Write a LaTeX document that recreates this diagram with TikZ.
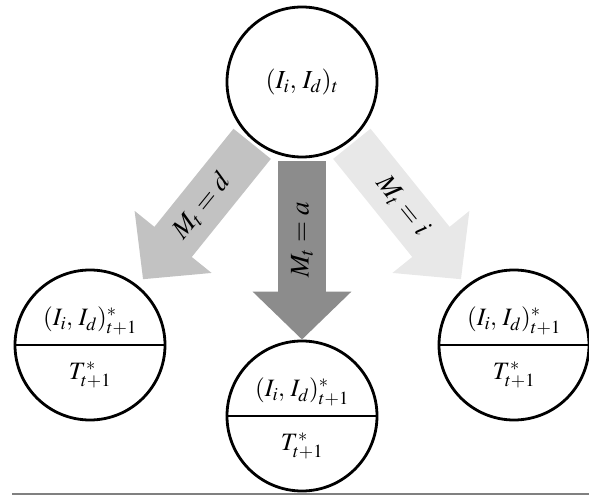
\documentclass[tikz,border=0pt]{standalone}
\usepackage{mathptmx}
\usetikzlibrary{arrows.meta}
\definecolor{moveD}{gray}{0.76}
\definecolor{moveA}{gray}{0.55}
\definecolor{moveI}{gray}{0.91}
\tikzset{
  state/.style={circle,draw,line width=2.8pt,fill=white,minimum size=150pt,
    inner sep=0pt,font=\fontsize{26}{30}\selectfont},
  statetext/.style={inner sep=0pt,font=\fontsize{25}{29}\selectfont},
  move/.style={line width=48pt,-{Triangle[length=48pt,width=96pt]},shorten <=3pt},
  movelabel/.style={font=\fontsize{27}{31}\selectfont,pos=0.45}
}
\begin{document}
\begin{tikzpicture}[x=1pt,y=1pt]
  \useasboundingbox (0,0) rectangle (589,495);
  \node[state] (now) at (302,413) {$(I_i,\, I_d)_t$};
  \foreach \n/\x/\y in {nextD/90/150, nextA/302/79, nextI/514/150} {
    \node[state] (\n) at (\x,\y) {};
    \draw[line width=2.8pt] (\n.west) -- (\n.east);
    \node[statetext] (\n-up) at ([yshift=24]\n.center) {$(I_i,\, I_d)^*_{t+1}$};
    \node[statetext] (\n-low) at ([yshift=-30]\n.center) {$T^*_{t+1}$};
  }
  \draw[move,draw=moveD,shorten >=8pt] (now) -- node[movelabel,rotate=51] {$M_t = d$} (nextD);
  \draw[move,draw=moveA] (now) -- node[movelabel,rotate=90] {$M_t = a$} (nextA);
  \draw[move,draw=moveI,shorten >=8pt] (now) -- node[movelabel,rotate=-51] {$M_t = i$} (nextI);
  \draw[gray,line width=1.5pt] (12,1) -- (589,1);
\end{tikzpicture}
\end{document}
